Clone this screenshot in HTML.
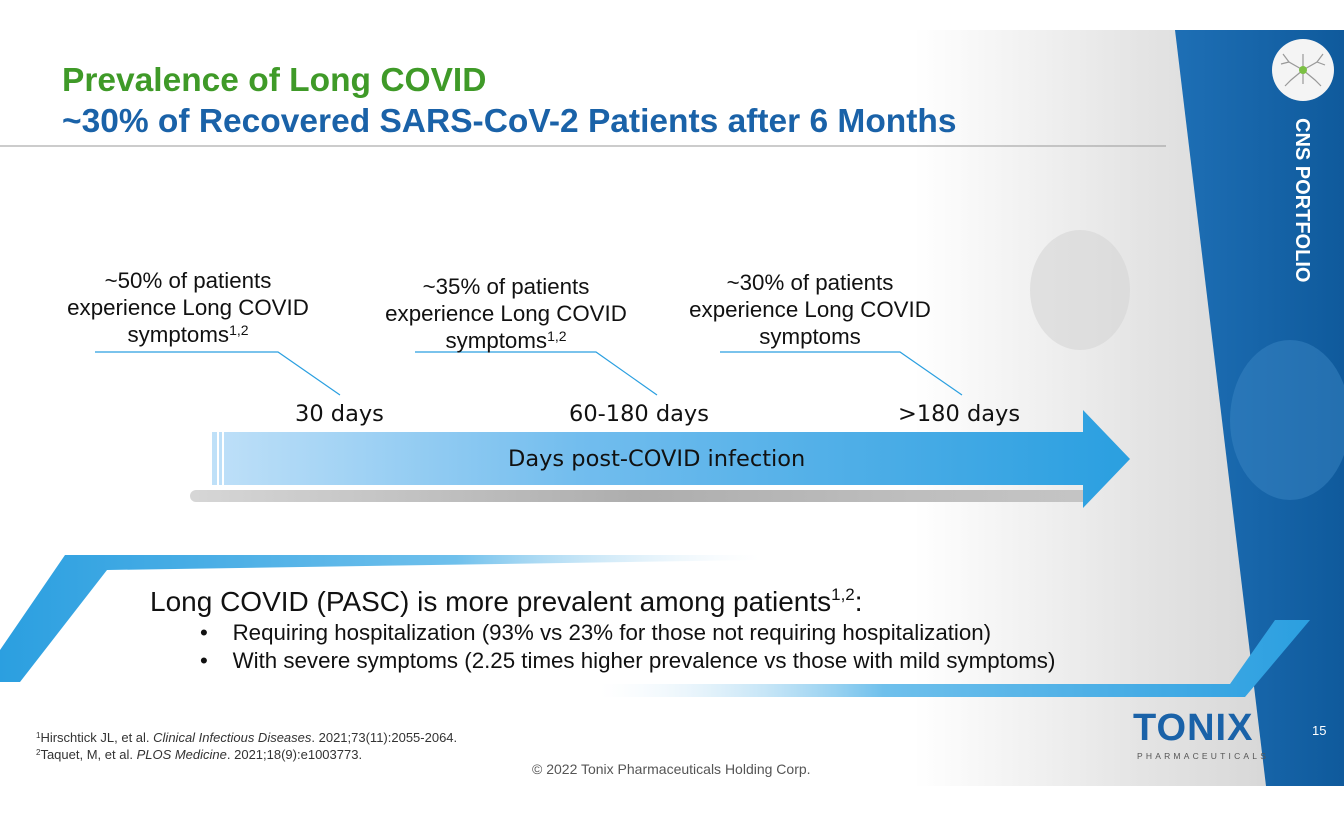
<!DOCTYPE html>
<html><head><meta charset="utf-8"><style>
body{margin:0;width:1344px;height:816px;background:#fff;position:relative;overflow:hidden;font-family:"Liberation Sans",Arial,sans-serif}
.a{position:absolute}
.t{font-weight:bold;font-size:33.5px;line-height:42px}
.c{text-align:center;font-size:22.3px;line-height:27px;color:#111}
sup{font-size:14px;vertical-align:7px;line-height:0}
.d{font-family:"DejaVu Sans",sans-serif;font-size:22.5px;color:#111}
</style></head><body>
<div class="a" style="left:0;top:30px;width:1344px;height:756px;background:linear-gradient(90deg,#fff 0%,#fff 68%,#e4e4e4 85%,#d0d0d0 100%)"></div>
<svg class="a" style="left:0;top:0" width="1344" height="816">
<defs>
<linearGradient id="ar" x1="0" x2="1"><stop offset="0" stop-color="#bfe0f8"/><stop offset="0.4" stop-color="#72bdee"/><stop offset="1" stop-color="#2a9fe0"/></linearGradient>
<linearGradient id="bl" x1="0" x2="1"><stop offset="0" stop-color="#2b9fe0"/><stop offset="0.6" stop-color="#6fc0ec"/><stop offset="1" stop-color="#dfeef8" stop-opacity="0"/></linearGradient>
<linearGradient id="br" x1="0" x2="1"><stop offset="0" stop-color="#dfeef8" stop-opacity="0"/><stop offset="0.4" stop-color="#6fc0ec"/><stop offset="1" stop-color="#2b9fe0"/></linearGradient>
<linearGradient id="sh" x1="0" x2="1"><stop offset="0" stop-color="#ccc"/><stop offset="0.5" stop-color="#999"/><stop offset="1" stop-color="#bbb"/></linearGradient>
<linearGradient id="bb" x1="0" x2="1"><stop offset="0" stop-color="#1e6fb5"/><stop offset="1" stop-color="#0f5a9c"/></linearGradient>
</defs>
<polygon points="1175,30 1344,30 1344,786 1266,786" fill="url(#bb)"/>
<ellipse cx="1290" cy="420" rx="60" ry="80" fill="#3a86c4" opacity="0.5"/>
<ellipse cx="1080" cy="290" rx="50" ry="60" fill="#d6d6d6" opacity="0.6"/>
<line x1="0" y1="146" x2="1166" y2="146" stroke="#999" stroke-width="1"/>
<rect x="190" y="490" width="900" height="12" rx="6" fill="url(#sh)" opacity="0.8"/>
<polygon points="212,432 1083,432 1083,410 1130,459 1083,508 1083,485 212,485" fill="url(#ar)"/>
<rect x="217" y="432" width="2" height="53" fill="#fff"/><rect x="222" y="432" width="2" height="53" fill="#fff"/>
<polygon points="0,682 0,650 65,555 760,555 760,560 107,570 20,682" fill="url(#bl)"/>
<polygon points="600,684 1230,684 1275,620 1310,620 1245,697 600,697" fill="url(#br)"/>
<g stroke="#2a9fe0" stroke-width="1.2" fill="none">
<polyline points="95,352 278,352 340,395"/>
<polyline points="415,352 596,352 657,395"/>
<polyline points="720,352 900,352 962,395"/>
</g>
<circle cx="1303" cy="70" r="31" fill="#f4f4f4"/>
<g stroke="#999" stroke-width="1.2" fill="none"><path d="M1303 70 l-14 -8 -6 -8 M1289 62 l-8 2 M1303 70 l14 -8 6 -8 M1317 62 l8 3 M1303 70 l-12 10 -6 6 M1303 70 l12 10 6 6 M1303 70 v-16 M1303 70 v14"/></g>
<circle cx="1303" cy="70" r="4" fill="#7bc043"/>
</svg>
<div class="a t" style="left:62px;top:60px;color:#3f9a28">Prevalence of Long COVID</div>
<div class="a t" style="left:62px;top:101px;color:#1a62a8">~30% of Recovered SARS-CoV-2 Patients after 6 Months</div>
<div class="a c" style="left:38px;top:267px;width:300px">~50% of patients<br>experience Long COVID<br>symptoms<sup>1,2</sup></div>
<div class="a c" style="left:356px;top:273px;width:300px">~35% of patients<br>experience Long COVID<br>symptoms<sup>1,2</sup></div>
<div class="a c" style="left:660px;top:269px;width:300px">~30% of patients<br>experience Long COVID<br>symptoms</div>
<div class="a d" style="left:295px;top:401px">30 days</div>
<div class="a d" style="left:569px;top:401px">60-180 days</div>
<div class="a d" style="left:898px;top:401px">&gt;180 days</div>
<div class="a d" style="left:508px;top:446px">Days post-COVID infection</div>
<div class="a" style="left:150px;top:586px;font-size:28px;color:#111">Long COVID (PASC) is more prevalent among patients<sup style="font-size:17px;vertical-align:11px">1,2</sup>:</div>
<div class="a" style="left:200px;top:619px;font-size:22.3px;line-height:28px;color:#111">•&nbsp;&nbsp;&nbsp;&nbsp;Requiring hospitalization (93% vs 23% for those not requiring hospitalization)<br>•&nbsp;&nbsp;&nbsp;&nbsp;With severe symptoms (2.25 times higher prevalence vs those with mild symptoms)</div>
<div class="a" style="left:36px;top:729px;font-size:13px;line-height:17px;color:#333"><sup style="font-size:8px;vertical-align:4px">1</sup>Hirschtick JL, et al. <i>Clinical Infectious Diseases</i>. 2021;73(11):2055-2064.<br><sup style="font-size:8px;vertical-align:4px">2</sup>Taquet, M, et al. <i>PLOS Medicine</i>. 2021;18(9):e1003773.</div>
<div class="a" style="left:532px;top:761px;font-size:14px;color:#555">© 2022 Tonix Pharmaceuticals Holding Corp.</div>
<div class="a" style="left:1133px;top:708px;font-size:38px;font-weight:bold;color:#1a62a8;letter-spacing:1px;line-height:40px">TONIX</div>
<div class="a" style="left:1137px;top:751px;font-size:8.5px;letter-spacing:3.2px;color:#555">PHARMACEUTICALS</div>
<div class="a" style="left:1312px;top:723px;font-size:13px;color:#fff">15</div>
<div class="a" style="left:1288px;top:118px;width:30px;height:184px"><div style="transform:rotate(90deg);transform-origin:0 0;position:absolute;left:26px;top:0;white-space:nowrap;font-weight:bold;font-size:20px;color:#fff;line-height:24px">CNS PORTFOLIO</div></div>
</body></html>
